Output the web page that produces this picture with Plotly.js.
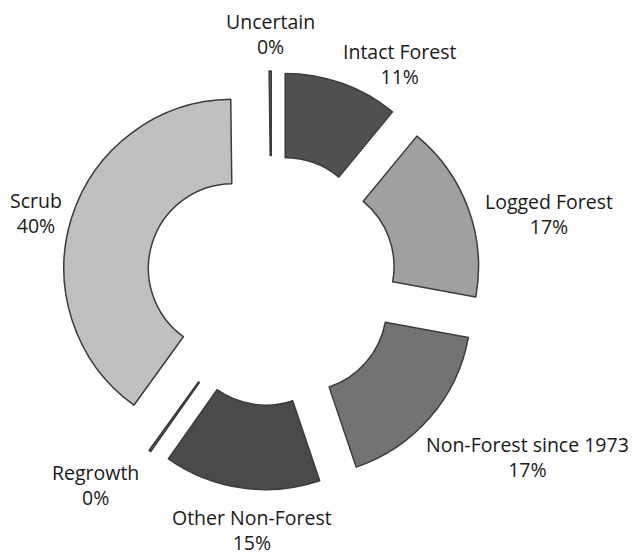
<!DOCTYPE html>
<html>
<head>
<meta charset="utf-8">
<script src="https://cdn.plot.ly/plotly-3.0.1.min.js"></script>
<style>html,body{margin:0;padding:0;background:#fff;}#chart{width:634px;height:560px;}</style>
</head>
<body>
<div id="chart"></div>
<script>
// Land-cover categories (clockwise from 12 o'clock)
const categories = ["Intact Forest", "Logged Forest", "Non-Forest since 1973", "Other Non-Forest", "Regrowth", "Scrub", "Uncertain"];
// Share of area, percent (the two 0% classes are tiny non-zero slivers)
const values = [11, 17, 17, 15, 0.2, 40, 0.2];
const colors = ["#505050", "#a0a0a0", "#737373", "#4a4a4a", "#6a6a6a", "#c0c0c0", "#6a6a6a"];

const total = values.reduce((a, b) => a + b, 0);
const percents = values.map(v => Math.round(v / total * 100));

// label anchor positions in pixels (layout only)
const labelPx = [[399.5, 64], [548.5, 214], [527, 457], [251.5, 530], [95, 485], [35.5, 213], [270, 34]];

const M = {l: 62, r: 153, t: 71, b: 70};
const W = 634, H = 560;
const pw = W - M.l - M.r, ph = H - M.t - M.b;

const annotations = categories.map((c, i) => ({
  xref: 'paper', yref: 'paper',
  x: (labelPx[i][0] - M.l) / pw,
  y: 1 - (labelPx[i][1] - M.t) / ph,
  xanchor: 'center', yanchor: 'middle',
  text: c + '<br>' + percents[i] + '%',
  showarrow: false,
  align: 'center',
  font: {family: 'Open Sans, sans-serif', size: 19.5, color: '#1a1a1a'}
}));

const trace = {
  type: 'pie',
  labels: categories,
  values: values,
  sort: false,
  direction: 'clockwise',
  rotation: 0,
  hole: 0.5,
  pull: values.map(() => 0.24),
  marker: {colors: colors, line: {color: '#3c3c3c', width: 1.5}},
  textinfo: 'none',
  hoverinfo: 'none',
  showlegend: false
};

Plotly.newPlot('chart', [trace], {
  width: W, height: H,
  margin: M,
  paper_bgcolor: '#ffffff',
  plot_bgcolor: '#ffffff',
  showlegend: false,
  annotations: annotations
}, {displayModeBar: false, staticPlot: true});
</script>
</body>
</html>
